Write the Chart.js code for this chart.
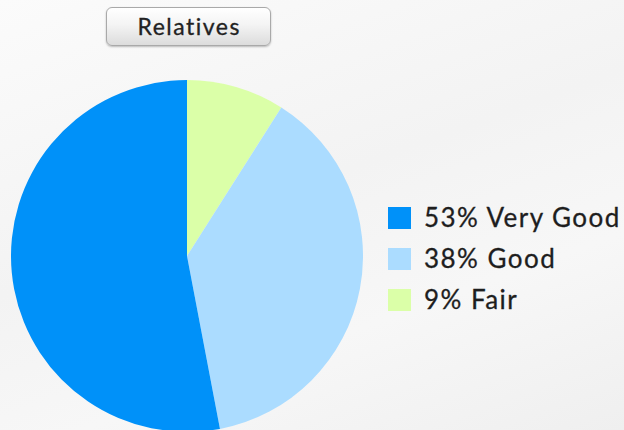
<!DOCTYPE html>
<html>
<head>
<meta charset="utf-8">
<script src="https://cdn.jsdelivr.net/npm/chart.js@4"></script>
<style>
  html, body { margin: 0; padding: 0; }
  body {
    width: 624px; height: 430px; overflow: hidden; position: relative;
    background: linear-gradient(160deg, #fbfbfb 0%, #f3f3f3 45%, #f7f7f7 70%, #efefef 100%);
    font-family: Lato, "Open Sans", sans-serif;
  }
  #title {
    position: absolute; left: 106px; top: 7px; width: 163px; height: 37px;
    border: 1px solid #a9a9a9; border-radius: 6px;
    background: linear-gradient(#ffffff 0%, #f4f4f4 45%, #dcdcdc 100%);
    box-shadow: 0 1px 2px rgba(0,0,0,0.25);
    text-align: center; line-height: 37px; font-size: 23px; color: #222;
    letter-spacing: 1.5px; text-indent: 1.5px; -webkit-text-stroke: 0.3px #222;
  }
  #pieWrap { position: absolute; left: 11px; top: 80px; width: 352px; height: 352px; }
  #legend { position: absolute; left: 388px; top: 207px; }
  .item { height: 41px; position: relative; }
  .sw { position: absolute; left: 0; top: 0; width: 23px; height: 22px; }
  .lbl { position: absolute; left: 36px; top: -6px; font-size: 26px; line-height: 32px; color: #1e1e1e; white-space: nowrap; letter-spacing: 1.45px; -webkit-text-stroke: 0.3px #1e1e1e; }
</style>
</head>
<body>
<div id="title">Relatives</div>
<div id="pieWrap"><canvas id="pie" width="352" height="352"></canvas></div>
<div id="legend"></div>
<script>
// Ratings breakdown
const categories = ['Very Good', 'Good', 'Fair'];
const shares = [53, 38, 9];
const sliceColors = ['#0091f9', '#abdcff', '#dbffa8'];

// Legend (listed in category order)
const legend = document.getElementById('legend');
categories.forEach((name, i) => {
  const row = document.createElement('div');
  row.className = 'item';
  row.innerHTML = '<div class="sw" style="background:' + sliceColors[i] + '"></div>' +
                  '<div class="lbl">' + shares[i] + '% ' + name + '</div>';
  legend.appendChild(row);
});

// Slices run clockwise from 12 o'clock starting with the smallest share
const order = categories.map((_, i) => i).reverse();
new Chart(document.getElementById('pie'), {
  type: 'pie',
  data: {
    labels: order.map(i => categories[i]),
    datasets: [{
      data: order.map(i => shares[i]),
      backgroundColor: order.map(i => sliceColors[i]),
      borderWidth: 0
    }]
  },
  options: {
    responsive: false,
    animation: false,
    layout: { padding: 0 },
    plugins: { legend: { display: false }, tooltip: { enabled: false }, title: { display: false } }
  }
});
</script>
</body>
</html>
